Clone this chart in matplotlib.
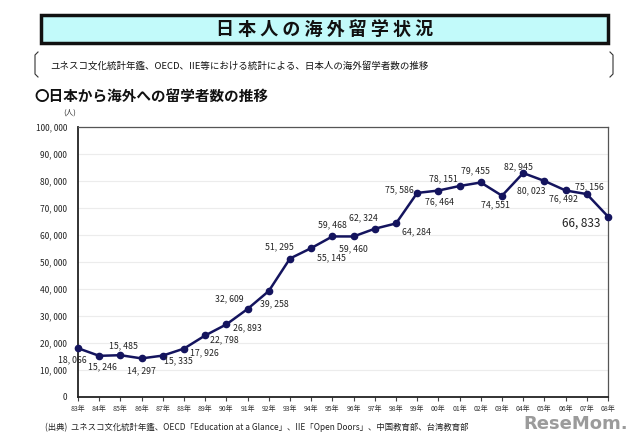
import matplotlib
matplotlib.use("Agg")
import matplotlib.pyplot as plt
from matplotlib.patches import Rectangle

plt.rcParams['font.family'] = ['Noto Sans CJK JP', 'DejaVu Sans']

years = ["83", "84", "85", "86", "87", "88", "89", "90", "91", "92", "93", "94", "95",
         "96", "97", "98", "99", "00", "01", "02", "03", "04", "05", "06", "07", "08"]
students = [18066, 15246, 15485, 14297, 15335, 17926, 22798, 26893, 32609, 39258,
            51295, 55145, 59468, 59460, 62324, 64284, 75586, 76464, 78151, 79455,
            74551, 82945, 80023, 76492, 75156, 66833]
label_offsets = [(-5, -11), (3, -11), (3, 9), (0, -12), (15, -5), (20, -4), (18, -4),
                 (20, -3), (-18, 10), (5, -12), (-10, 11), (19, -9), (0, 11), (0, -12),
                 (-11, 10), (20, -8), (-17, 3), (1, -11), (-16, 7), (-5, 11), (-6, -9),
                 (-5, 6), (-13, -9), (-2, -8), (2, 7), (-26, -6)]
yticks = [0, 10000, 20000, 30000, 40000, 50000, 60000, 70000, 80000, 90000, 100000]

W, H = 640, 438
fig = plt.figure(figsize=(W / 100, H / 100), dpi=100)

def fx(px):
    return px / W

def fy(py):
    return 1 - py / H

# Title box
fig.patches.append(Rectangle((fx(41), fy(43)), fx(608) - fx(41), fy(15) - fy(43),
                             transform=fig.transFigure, facecolor='#c2fafa',
                             edgecolor='#111111', linewidth=2.5, zorder=1))
fig.text(fx(325), fy(29), "日 本 人 の 海 外 留 学 状 況", ha='center', va='center',
         fontsize=13, fontweight='bold', color='#111111')

# Bracket
bx0, bx1, by0, by1 = 35, 613, 52, 77
for x, d in ((bx0, 1), (bx1, -1)):
    fig.add_artist(plt.Line2D([fx(x + 3 * d), fx(x), fx(x), fx(x + 3 * d)],
                              [fy(by0), fy(by0 + 3), fy(by1 - 3), fy(by1)],
                              transform=fig.transFigure, color='#333333', linewidth=0.8))
fig.text(fx(50), fy(66), "ユネスコ文化統計年鑑、OECD、IIE等における統計による、日本人の海外留学者数の推移",
         ha='left', va='center', fontsize=6.8, color='#111111')
fig.text(fx(34), fy(97), "〇日本から海外への留学者数の推移", ha='left', va='center',
         fontsize=10.5, fontweight='bold', color='#111111')

ax = fig.add_axes([fx(78), fy(397), fx(608) - fx(78), fy(127) - fy(397)])
x = list(range(len(years)))
ax.plot(x, students, color='#14145e', linewidth=1.8, marker='o', markersize=4.5,
        zorder=3, clip_on=False)
ax.set_xlim(0, len(years) - 1)
ax.set_ylim(0, 100000)
ax.set_yticks(yticks)
ax.set_yticklabels([f"{v:,}".replace(",", ", ") for v in yticks], fontsize=6, color='#222222')
ax.set_xticks(x)
ax.set_xticklabels([y + "年" for y in years], fontsize=5, color='#333333')
ax.tick_params(axis='y', length=0, pad=8)
ax.tick_params(axis='x', length=3, direction='out', pad=3, color='#444444')
ax.grid(axis='y', color='#ececec', linewidth=0.8)
ax.set_axisbelow(True)
for s in ('left', 'bottom'):
    ax.spines[s].set_color('#222222')
    ax.spines[s].set_linewidth(1.3)
for s in ('top', 'right'):
    ax.spines[s].set_color('#555555')
    ax.spines[s].set_linewidth(0.9)

for i, (v, (dx, dy)) in enumerate(zip(students, label_offsets)):
    last = i == len(students) - 1
    ax.annotate(f"{v:,}".replace(",", ", "), (i, v), xytext=(dx * 0.75, dy * 0.75),
                textcoords='offset points', ha='center', va='center',
                fontsize=8.5 if last else 6.3, color='#222222')

fig.text(fx(70), fy(113), "(人)", ha='center', va='center', fontsize=5.5, color='#333333')
fig.text(fx(45), fy(427), "(出典)  ユネスコ文化統計年鑑、OECD「Education at a Glance」、IIE「Open Doors」、中国教育部、台湾教育部",
         ha='left', va='center', fontsize=6, color='#222222')
fig.text(fx(576), fy(424), "ReseMom.", ha='center', va='center', fontsize=13,
         fontweight='bold', color='#8a8a8a', alpha=0.85,
         family=['Liberation Sans Narrow', 'DejaVu Sans'])

fig.savefig("out.png", dpi=100, facecolor='white')
